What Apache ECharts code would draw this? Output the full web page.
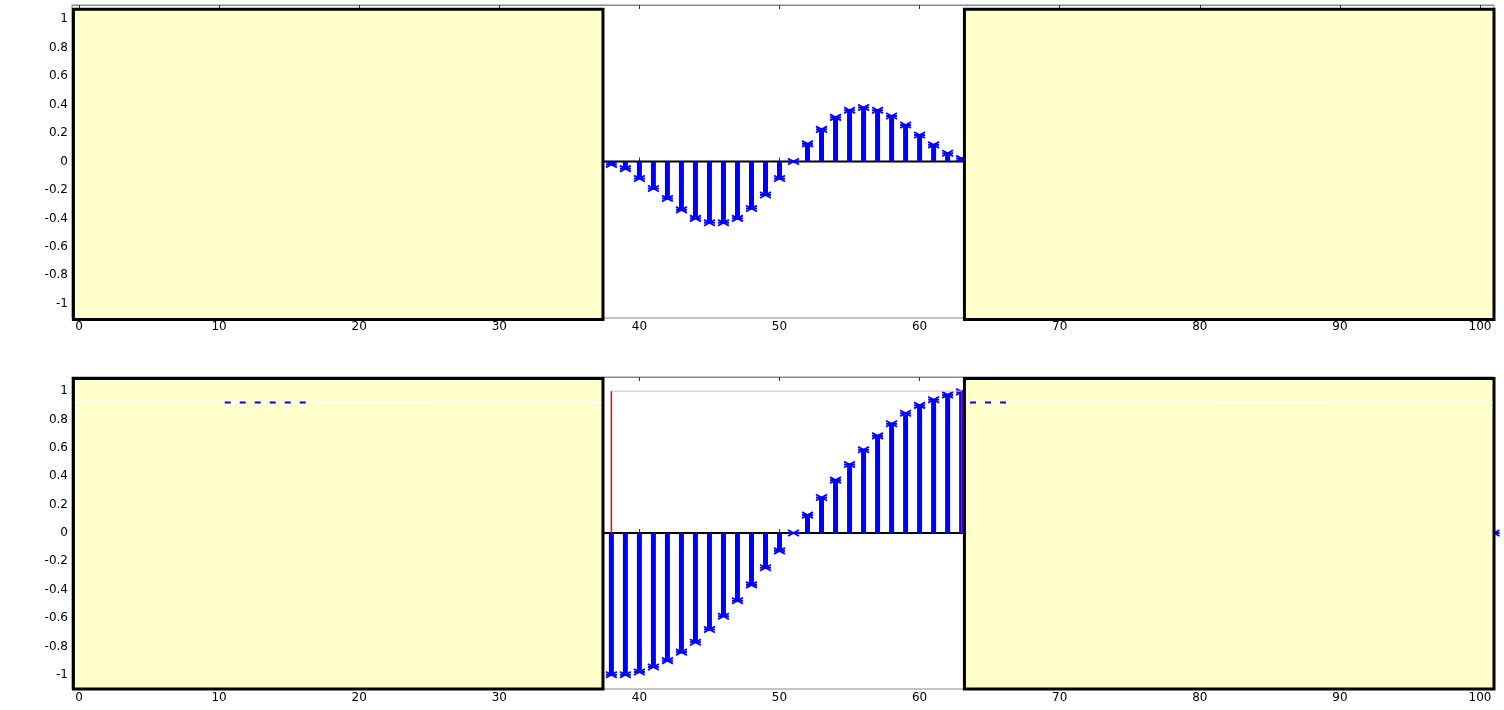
<!DOCTYPE html>
<html>
<head>
<meta charset="utf-8">
<script src="https://cdn.jsdelivr.net/npm/echarts@6/dist/echarts.min.js"></script>
<style>html,body{margin:0;padding:0;background:#fff;}#c{width:1504px;height:710px;}</style>
</head>
<body>
<div id="c"></div>
<script>
// ---- data ----
const xTickValues = [0, 10, 20, 30, 40, 50, 60, 70, 80, 90, 100];
const yTickValues = [-1, -0.8, -0.6, -0.4, -0.2, 0, 0.2, 0.4, 0.6, 0.8, 1];
const stemX = [38, 39, 40, 41, 42, 43, 44, 45, 46, 47, 48, 49, 50, 51, 52, 53, 54, 55, 56, 57, 58, 59, 60, 61, 62, 63];
const topValues = [-0.02, -0.05, -0.12, -0.19, -0.26, -0.34, -0.40, -0.43, -0.43, -0.40, -0.33, -0.235, -0.12, 0.0,
                   0.124, 0.226, 0.31, 0.36, 0.38, 0.36, 0.32, 0.256, 0.186, 0.117, 0.058, 0.02];
const bottomValues = [-1.0, -1.0, -0.98, -0.945, -0.90, -0.84, -0.77, -0.68, -0.587, -0.478, -0.366, -0.245, -0.126, 0.0,
                      0.126, 0.25, 0.373, 0.483, 0.587, 0.685, 0.77, 0.844, 0.90, 0.94, 0.974, 0.995];
const bottomEdgeX = [101];
const bottomEdgeValues = [0];
// shaded window boxes: [x0, x1, y0, y1]
const topBoxes = [[-0.4, 37.4, -1.11, 1.07], [63.2, 101, -1.11, 1.07]];
const bottomBoxes = [[-0.4, 37.4, -1.1, 1.09], [63.2, 101, -1.1, 1.09]];
const redFrame = [[38, 63, 0, 1]];
const refLineY = 0.92;
const refLineSegments = [[-0.3, 37.3], [63.3, 100.9]];
const refDashSegments = [[10.4, 16.2], [63.6, 66.2]];
const xMin = -0.5, xMax = 101, yMin = -1.1, yMax = 1.1;

// ---- chart ----
const chart = echarts.init(document.getElementById('c'));
const font = 'DejaVu Sans';
const grids = [
  {left: 72, top: 5, width: 1422, height: 313, show: true, borderColor: '#888', borderWidth: 1},
  {left: 72, top: 377, width: 1422, height: 312, show: true, borderColor: '#888', borderWidth: 1}
];
function xAxes(gi) {
  return [
    {type: 'value', gridIndex: gi, position: 'bottom', min: xMin, max: xMax,
     axisLine: {show: true, lineStyle: {color: '#888', width: 1}},
     axisTick: {show: true, inside: true, length: 4, customValues: xTickValues, lineStyle: {color: '#333'}},
     axisLabel: {show: true, customValues: xTickValues, margin: 3, color: '#000', fontFamily: font, fontSize: 12,
                 formatter: v => String(Math.round(v))},
     splitLine: {show: false}},
    {type: 'value', gridIndex: gi, position: 'top', min: xMin, max: xMax,
     axisLine: {show: true, lineStyle: {color: '#888', width: 1}},
     axisTick: {show: true, inside: true, length: 4, customValues: xTickValues, lineStyle: {color: '#333'}},
     axisLabel: {show: false}, splitLine: {show: false}}
  ];
}
function yAxis(gi) {
  return {type: 'value', gridIndex: gi, min: yMin, max: yMax,
    axisLine: {show: false},
    axisTick: {show: true, inside: true, length: 4, customValues: yTickValues, lineStyle: {color: '#333'}},
    axisLabel: {show: true, customValues: yTickValues, margin: 4, color: '#000', fontFamily: font, fontSize: 12,
                formatter: v => String(Math.round(v * 10) / 10)},
    splitLine: {show: false}};
}
function stemRender(params, api) {
  const x = api.value(0), y = api.value(1);
  const p = api.coord([x, y]);
  const b = api.coord([x, 0]);
  const blue = '#0000ff';
  return {type: 'group', children: [
    {type: 'line', shape: {x1: b[0], y1: b[1], x2: p[0], y2: p[1]}, style: {stroke: blue, lineWidth: 5}},
    {type: 'line', shape: {x1: p[0] - 5.5, y1: p[1], x2: p[0] + 5.5, y2: p[1]}, style: {stroke: blue, lineWidth: 2}},
    {type: 'line', shape: {x1: p[0] - 5.5, y1: p[1] - 3, x2: p[0] + 5.5, y2: p[1] + 3}, style: {stroke: blue, lineWidth: 1.8}},
    {type: 'line', shape: {x1: p[0] - 5.5, y1: p[1] + 3, x2: p[0] + 5.5, y2: p[1] - 3}, style: {stroke: blue, lineWidth: 1.8}}
  ]};
}
function boxRender(params, api) {
  const a = api.coord([api.value(0), api.value(3)]);
  const b = api.coord([api.value(1), api.value(2)]);
  return {type: 'rect', shape: {x: a[0], y: a[1], width: b[0] - a[0], height: b[1] - a[1]},
          style: {fill: '#ffffcc', stroke: '#000', lineWidth: 3}};
}
function redFrameRender(params, api) {
  const x0 = api.value(0), x1 = api.value(1), y0 = api.value(2), y1 = api.value(3);
  const bl = api.coord([x0, y0]), tl = api.coord([x0, y1]), tr = api.coord([x1, y1]), br = api.coord([x1, y0]);
  return {type: 'group', children: [
    {type: 'line', shape: {x1: tl[0], y1: tl[1], x2: tr[0], y2: tr[1]}, style: {stroke: '#ffaaaa', lineWidth: 1}},
    {type: 'line', shape: {x1: bl[0], y1: bl[1], x2: tl[0], y2: tl[1]}, style: {stroke: '#ff0000', lineWidth: 1.5}},
    {type: 'line', shape: {x1: br[0], y1: br[1], x2: tr[0], y2: tr[1]}, style: {stroke: '#ff0000', lineWidth: 1.5}}
  ]};
}
function seriesFor(gi, values, boxes) {
  const xi = gi * 2, yi = gi;
  return [
    {type: 'line', xAxisIndex: xi, yAxisIndex: yi, data: [[xMin, 0], [xMax, 0]], symbol: 'none', silent: true,
     lineStyle: {color: '#000', width: 2}, z: 2},
    {type: 'custom', xAxisIndex: xi, yAxisIndex: yi, renderItem: stemRender,
     data: stemX.map((x, i) => [x, values[i]]), z: 3},
    {type: 'custom', xAxisIndex: xi, yAxisIndex: yi, renderItem: boxRender, data: boxes, z: 5}
  ];
}
const series = [].concat(seriesFor(0, topValues, topBoxes), seriesFor(1, bottomValues, bottomBoxes));
series.push(
  {type: 'custom', xAxisIndex: 2, yAxisIndex: 1, renderItem: stemRender,
   data: bottomEdgeX.map((x, i) => [x, bottomEdgeValues[i]]), z: 3},
  {type: 'custom', xAxisIndex: 2, yAxisIndex: 1, renderItem: redFrameRender, data: redFrame, z: 4}
);
refLineSegments.forEach(seg => series.push(
  {type: 'line', xAxisIndex: 2, yAxisIndex: 1, data: [[seg[0], refLineY], [seg[1], refLineY]], symbol: 'none',
   lineStyle: {color: '#fff', width: 1}, z: 6, silent: true}
));
refDashSegments.forEach(seg => series.push(
  {type: 'line', xAxisIndex: 2, yAxisIndex: 1, data: [[seg[0], refLineY], [seg[1], refLineY]], symbol: 'none',
   lineStyle: {color: '#0000ff', width: 2, type: [6, 9]}, z: 7, silent: true}
));

chart.setOption({
  animation: false,
  backgroundColor: '#fff',
  grid: grids,
  xAxis: [].concat(xAxes(0), xAxes(1)),
  yAxis: [yAxis(0), yAxis(1)],
  series: series
});
</script>
</body>
</html>
